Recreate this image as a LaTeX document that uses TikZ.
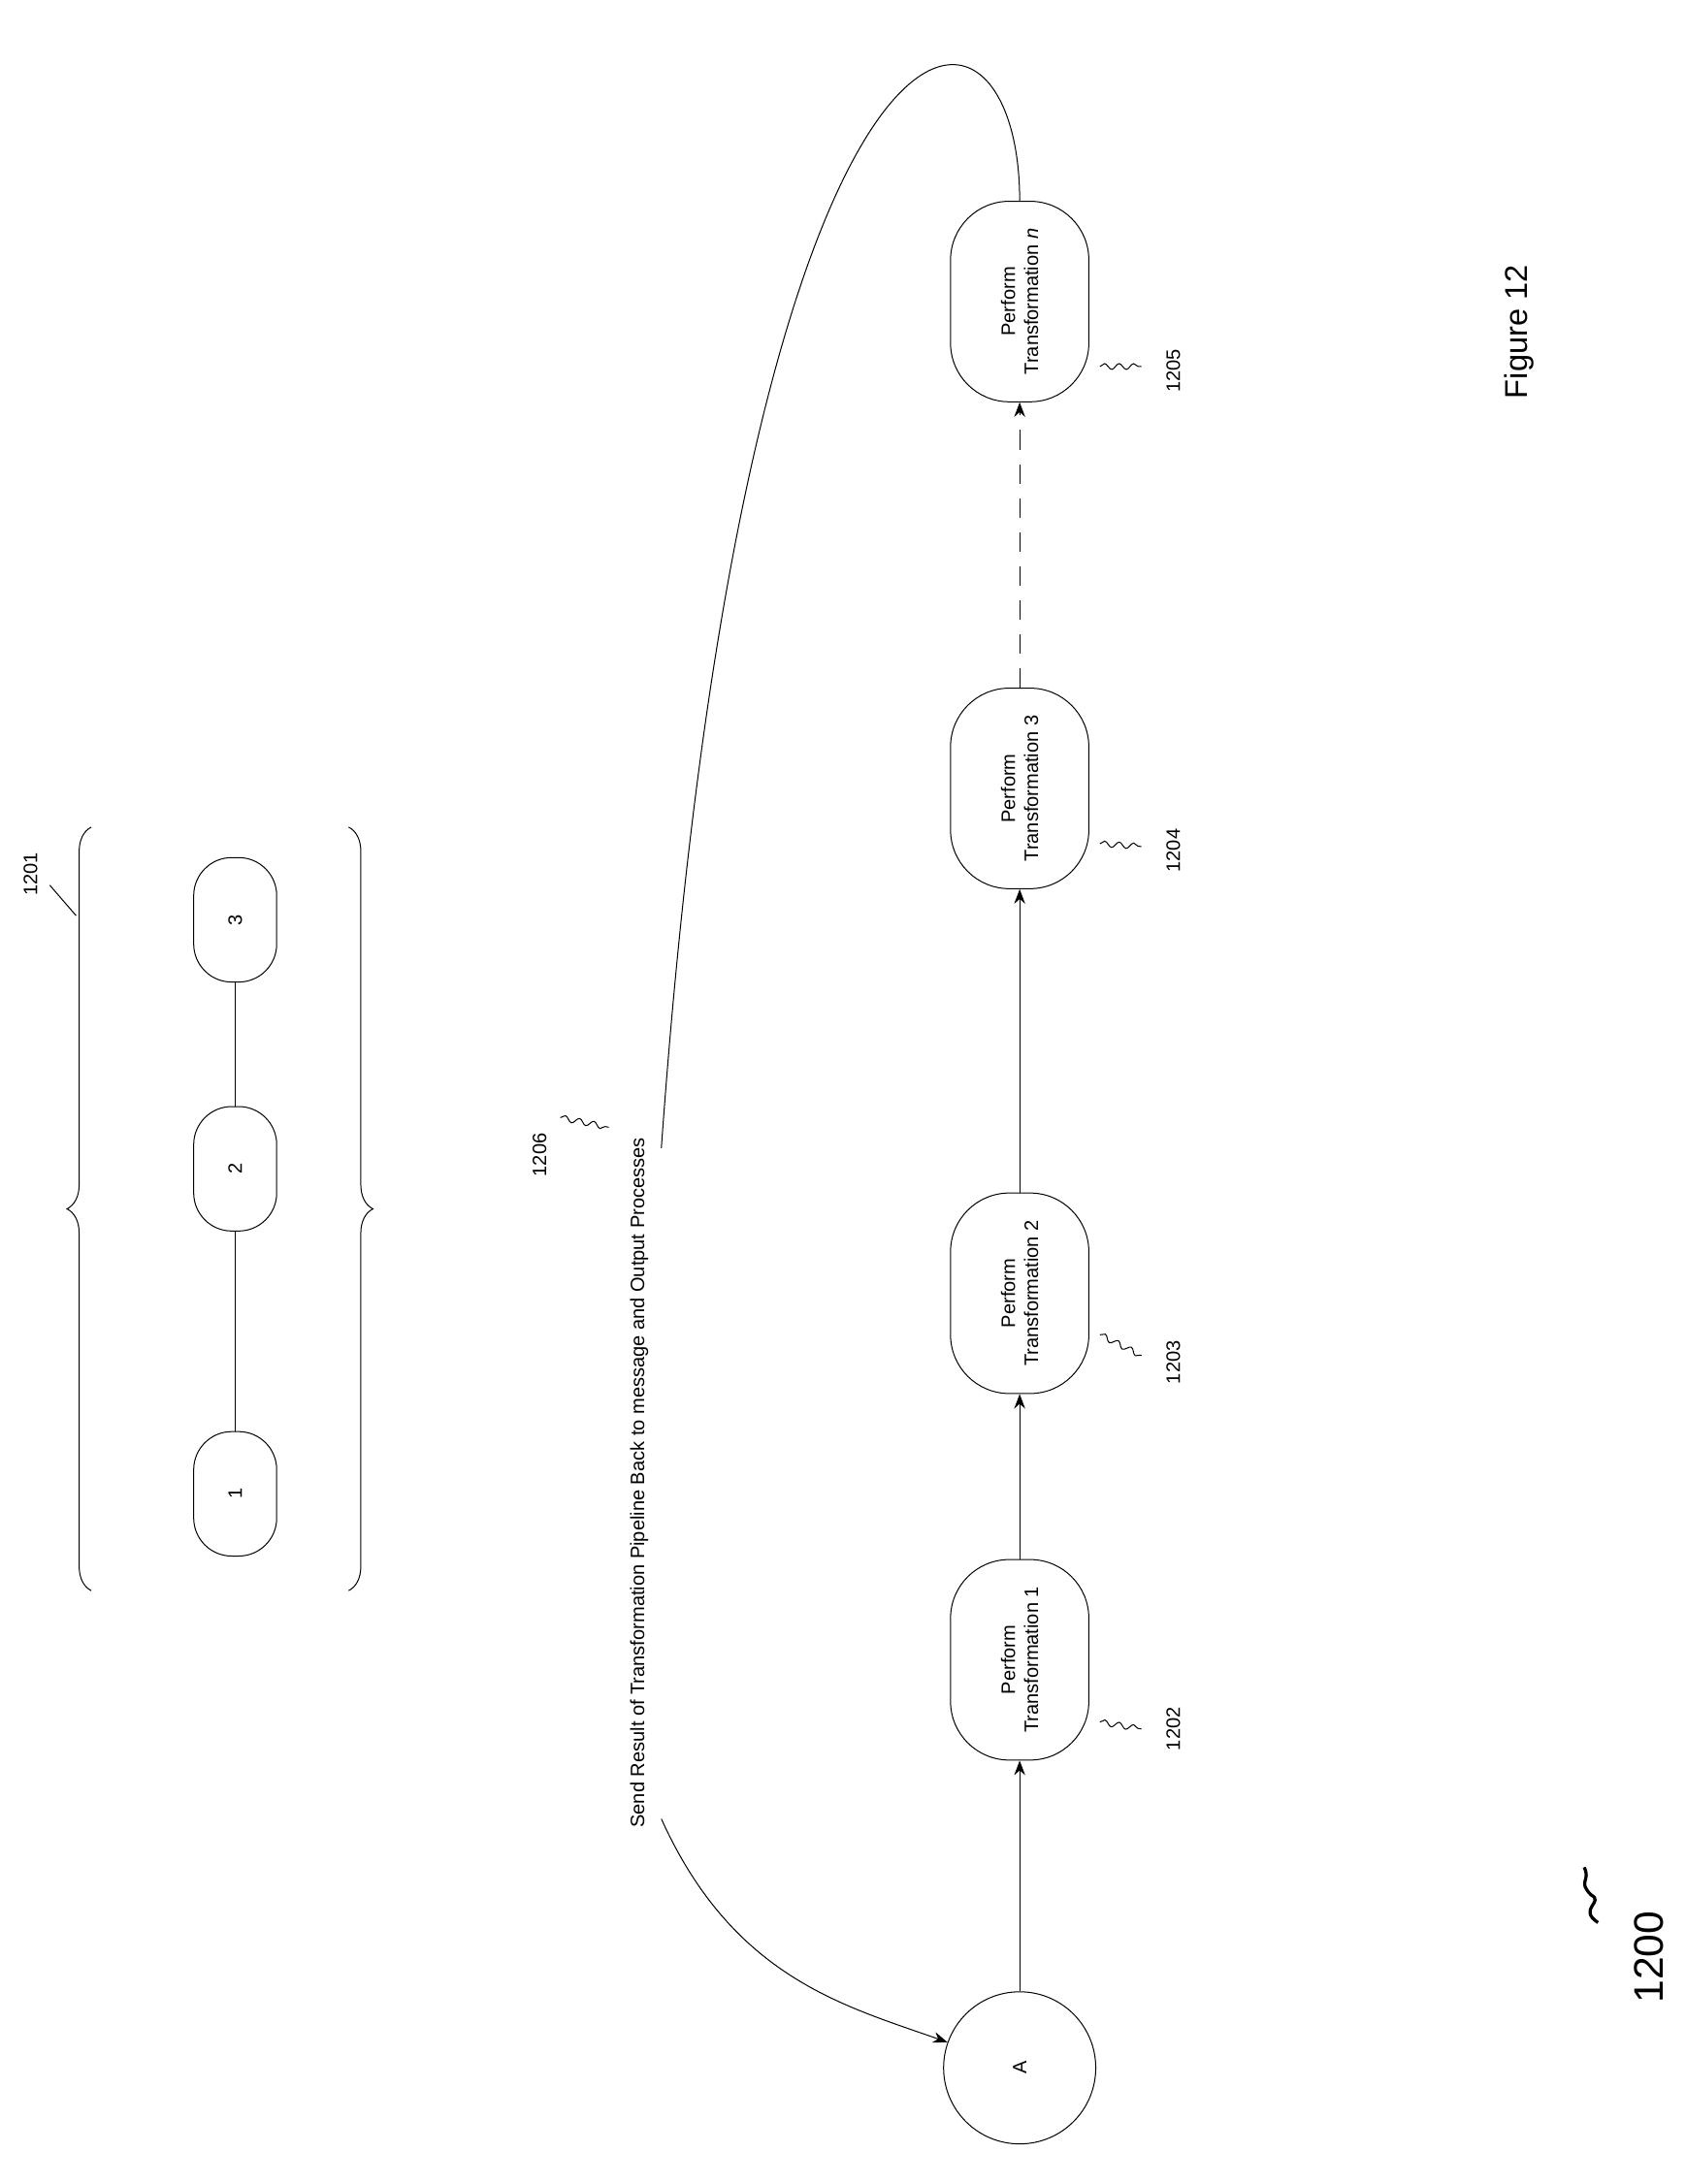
\documentclass[tikz,border=0pt]{standalone}
\usepackage{fontspec}
\setmainfont{Liberation Sans}
\usetikzlibrary{arrows.meta, decorations.pathreplacing, decorations.pathmorphing}

\begin{document}
\begin{tikzpicture}[x=0.02cm, y=-0.02cm, font=\fontsize{8}{9.5}\selectfont,
        stage/.style={draw, rounded corners=0.85cm, rotate=90, minimum width=2.9cm, minimum height=2cm, align=center},
        small/.style={draw, rounded corners=0.55cm, rotate=90, minimum width=1.8cm, minimum height=1.2cm},
        ref/.style={rotate=90},
        squig/.style={decorate, decoration={snake, amplitude=1.2pt, segment length=6pt}},
        flow/.style={-{Stealth[length=6pt]}}]
        \useasboundingbox (0,0) rectangle (1218,1579);
        % main pipeline
        \node[draw, circle, minimum size=2.2cm, rotate=90] (A) at (737,1495) {A};
        \node[stage] (t1) at (737,1200) {Perform\\Transformation 1};
        \node[stage] (t2) at (737,935)  {Perform\\Transformation 2};
        \node[stage] (t3) at (737,570)  {Perform\\Transformation 3};
        \node[stage] (t4) at (737,218)  {Perform\\Transformation \textit{n}};

        \draw[flow] (A) -- (t1);
        \draw[flow] (t1) -- (t2);
        \draw[flow] (t2) -- (t3);
        \draw[flow, dashed, dash pattern=on 8pt off 6pt] (t3) -- (t4);

        % reference labels
        \node[ref] (l1202) at (848,1250) {1202};
        \node[ref] (l1203) at (848,985)  {1203};
        \node[ref] (l1204) at (848,615)  {1204};
        \node[ref] (l1205) at (848,268)  {1205};
        \draw[squig] (795,1245) -- (825,1250);
        \draw[squig] (795,965) -- (825,980);
        \draw[squig] (795,610) -- (825,612);
        \draw[squig] (795,265) -- (825,265);

        % feedback
        \node[ref] (send) at (462,1072) {Send Result of Transformation Pipeline Back to message and Output Processes};
        \coordinate (s1) at (478,830);
        \coordinate (s2) at (478,1315);
        \draw (t4) .. controls (737,-40) and (540,-40) .. (s1);
        \draw[flow] (s2) .. controls (530,1430) and (610,1450) .. (A);
        \node[ref] (l1206) at (390,835) {1206};
        \draw[squig] (405,808) -- (440,815);

        % sequence 1201
        \node[small] (n1) at (170,1080) {1};
        \node[small] (n2) at (170,845)  {2};
        \node[small] (n3) at (170,665)  {3};
        \draw (n1) -- (n2);
        \draw (n2) -- (n3);
        \draw[decorate, decoration={brace, amplitude=10pt}] (66,1150) -- (66,598);
        \draw[decorate, decoration={brace, amplitude=10pt}] (252,598) -- (252,1150);
        \node[ref] (l1201) at (22,632) {1201};
        \draw (36,640) -- (55,662);

        % figure id
        \node[ref, font=\fontsize{13}{15}\selectfont] (fig) at (1098,240) {Figure 12};
        \node[ref, font=\fontsize{17}{19}\selectfont] (l1200) at (1192,1415) {1200};
        \draw[line width=1.3pt] (1155,1390) .. controls (1140,1380) and (1160,1375) .. (1150,1370)
             .. controls (1140,1360) and (1150,1360) .. (1145,1350);
\end{tikzpicture}
\end{document}
